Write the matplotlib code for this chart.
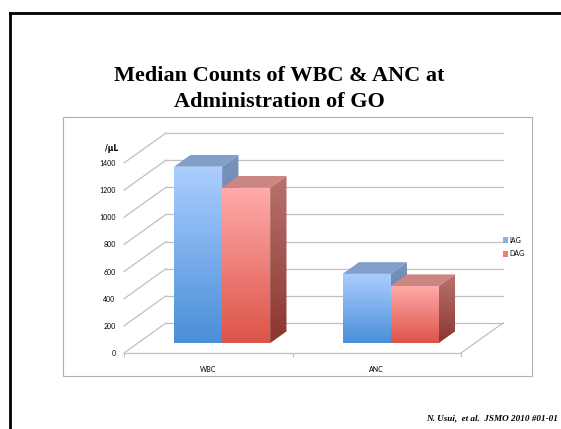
import matplotlib
matplotlib.use("Agg")
import matplotlib.pyplot as plt
import numpy as np
from matplotlib.colors import LinearSegmentedColormap
from matplotlib.patches import Polygon, Patch, Rectangle
from matplotlib.lines import Line2D

# data
categories = ["WBC", "ANC"]
series = ["IAG", "DAG"]
iag = [1300, 510]
dag = [1145, 420]
yticks = [0, 200, 400, 600, 800, 1000, 1200, 1400]

# colours: front top, front bottom, top face, side top, side bottom
cols = {
    "IAG": ("#abcdff", "#4a8fd8", "#819fcb", "#7893bb", "#5a79a6"),
    "DAG": ("#ffabaa", "#dc5448", "#cc8681", "#b8726e", "#8c362f"),
}

W, H = 561, 429
fig = plt.figure(figsize=(W / 100, H / 100), dpi=100)

# 3d oblique depth in data units
DX, DY = 0.249, 221
ymax = 1400
ax = fig.add_axes([124 / W, (H - 353) / H, (503 - 124) / W, (353 - 133) / H])
for s in ax.spines.values():
    s.set_visible(False)

grid_c = "#c0c0c0"
# walls and gridlines
for v in yticks:
    ax.plot([0, DX], [v, v + DY], color=grid_c, lw=0.9, zorder=1, clip_on=False)
    ax.plot([DX, 2 + DX], [v + DY, v + DY], color=grid_c, lw=0.9, zorder=1, clip_on=False)
ax.plot([0, 2], [0, 0], color=grid_c, lw=0.9, zorder=1, clip_on=False)
ax.plot([2, 2 + DX], [0, DY], color=grid_c, lw=0.9, zorder=1, clip_on=False)


def grad_poly(pts, c_top, c_bot, z):
    pts = np.array(pts)
    poly = Polygon(pts, closed=True, facecolor="none", edgecolor="none")
    ax.add_patch(poly)
    cmap = LinearSegmentedColormap.from_list("g", [c_bot, c_top])
    g = np.linspace(0, 1, 64).reshape(-1, 1)
    im = ax.imshow(g, cmap=cmap, origin="lower", aspect="auto", zorder=z,
                   extent=(pts[:, 0].min(), pts[:, 0].max(), pts[:, 1].min(), pts[:, 1].max()),
                   interpolation="bilinear")
    im.set_clip_path(poly)
    im.set_clip_on(True)


bw = 0.285
f0, fd = 0.33, 0.39
z = 3
for i, cat in enumerate(categories):
    for j, (name, vals) in enumerate(zip(series, [iag, dag])):
        v = vals[i]
        c = cols[name]
        x0 = i + (1 - 2 * bw) / 2 + j * bw + f0 * DX
        y0 = f0 * DY
        x1 = x0 + bw
        ddx, ddy = fd * DX, fd * DY
        # side face
        grad_poly([(x1, y0), (x1 + ddx, y0 + ddy), (x1 + ddx, y0 + v + ddy), (x1, y0 + v)],
                  c[3], c[4], z)
        # top face
        ax.add_patch(Polygon([(x0, y0 + v), (x1, y0 + v), (x1 + ddx, y0 + v + ddy),
                              (x0 + ddx, y0 + v + ddy)], closed=True, facecolor=c[2],
                             edgecolor="none", zorder=z + 1))
        # front face
        grad_poly([(x0, y0), (x1, y0), (x1, y0 + v), (x0, y0 + v)], c[0], c[1], z + 2)
        z += 3

ax.set_xlim(0, 2 + DX)
ax.set_ylim(0, ymax + DY)

ax.set_yticks(yticks)
ax.set_yticklabels([str(t) for t in yticks], fontsize=5, family="Lato")
ax.tick_params(axis="y", length=0, pad=6)
ax.set_xticks([0.5, 1.5])
ax.set_xticklabels(categories, fontsize=5, family="Lato")
ax.set_xticks([0, 1, 2], minor=True)
ax.tick_params(axis="x", which="major", length=0, pad=9)
ax.tick_params(axis="x", which="minor", length=3, color=grid_c, width=0.8)

ax.text(-0.035, 1400 + 110, "/μL", fontsize=5.5, fontweight="bold", ha="right",
        va="center", family="DejaVu Sans")

handles = [Patch(facecolor="#7fb2f0", edgecolor="none"),
           Patch(facecolor="#f07e77", edgecolor="none")]
fig.legend(handles, series, loc="center left", bbox_to_anchor=(500 / W, 1 - 247 / H),
           frameon=False, fontsize=5, handlelength=0.8, handleheight=0.8,
           handletextpad=0.2, labelspacing=1.0, borderaxespad=0,
           prop={"family": "Lato", "size": 5})

# chart area box
fig.patches.append(Rectangle((63 / W, 1 - 376 / H), (532 - 63) / W, (376 - 117) / H,
                             transform=fig.transFigure, facecolor="none",
                             edgecolor="#b0b0b0", lw=0.8, zorder=0))

# slide border
fig.add_artist(Line2D([10 / W, 10 / W], [0, 1 - 13 / H], color="black", lw=2,
                      transform=fig.transFigure))
fig.add_artist(Line2D([10 / W, 1], [1 - 13 / H, 1 - 13 / H], color="black", lw=2,
                      transform=fig.transFigure))

fig.text(279 / W, 1 - 89 / H, "Median Counts of WBC & ANC at\nAdministration of GO",
         ha="center", va="center", fontsize=16, fontweight="bold",
         family="Liberation Serif", linespacing=1.45)
fig.text(558 / W, 1 - 418 / H, "N. Usui,  et al.  JSMO 2010 #01-01", ha="right",
         va="center", fontsize=6.6, fontweight="bold", style="italic",
         family="Liberation Serif")

fig.savefig("out.png", dpi=100)
